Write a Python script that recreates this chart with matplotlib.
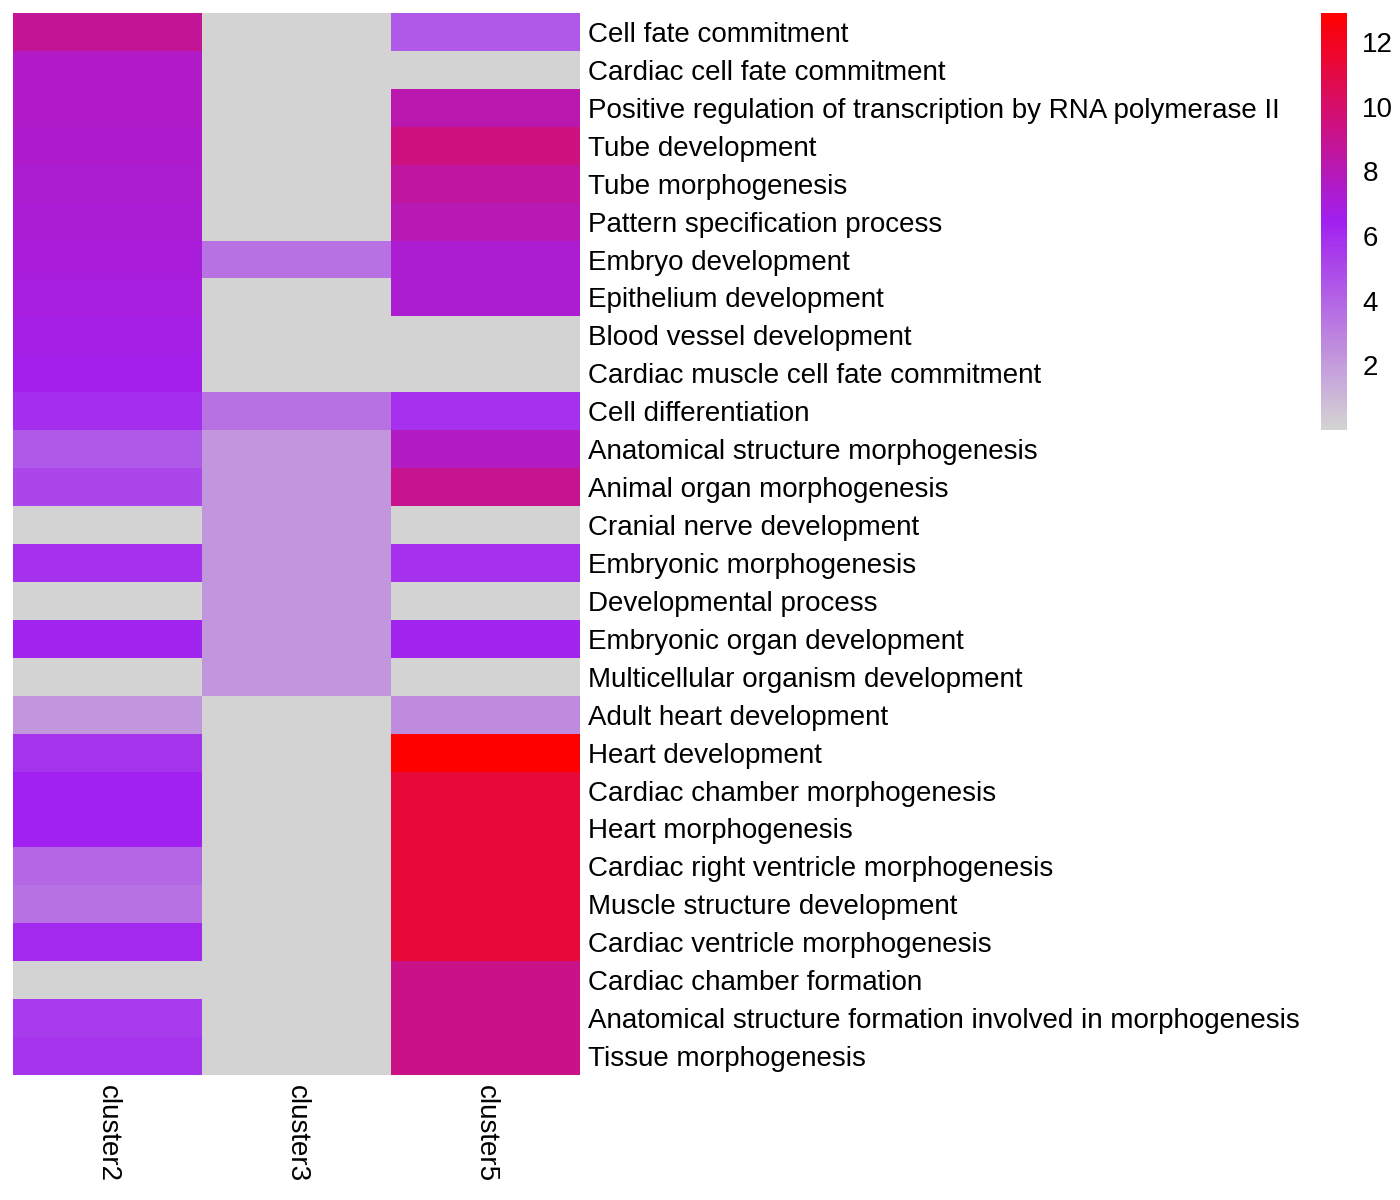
import numpy as np
import matplotlib
matplotlib.use("Agg")
import matplotlib.pyplot as plt
from matplotlib.colors import LinearSegmentedColormap

terms = [
    "Cell fate commitment",
    "Cardiac cell fate commitment",
    "Positive regulation of transcription by RNA polymerase II",
    "Tube development",
    "Tube morphogenesis",
    "Pattern specification process",
    "Embryo development",
    "Epithelium development",
    "Blood vessel development",
    "Cardiac muscle cell fate commitment",
    "Cell differentiation",
    "Anatomical structure morphogenesis",
    "Animal organ morphogenesis",
    "Cranial nerve development",
    "Embryonic morphogenesis",
    "Developmental process",
    "Embryonic organ development",
    "Multicellular organism development",
    "Adult heart development",
    "Heart development",
    "Cardiac chamber morphogenesis",
    "Heart morphogenesis",
    "Cardiac right ventricle morphogenesis",
    "Muscle structure development",
    "Cardiac ventricle morphogenesis",
    "Cardiac chamber formation",
    "Anatomical structure formation involved in morphogenesis",
    "Tissue morphogenesis",
]
clusters = ["cluster2", "cluster3", "cluster5"]

cluster2 = [8.9, 7.6, 7.5, 7.4, 7.3, 7.2, 7.0, 6.9, 6.8, 6.7,
            6.0, 4.5, 5.1, 0, 5.9, 0, 6.3, 0, 2.2, 5.8,
            6.4, 6.4, 3.9, 3.5, 6.1, 0, 5.5, 5.7]
cluster3 = [0, 0, 0, 0, 0, 0, 3.5, 0, 0, 0,
            3.5, 2.2, 2.2, 2.2, 2.2, 2.2, 2.2, 2.2, 0, 0,
            0, 0, 0, 0, 0, 0, 0, 0]
cluster5 = [4.5, 0, 8.2, 9.5, 8.6, 8.0, 7.3, 7.3, 0, 0,
            5.9, 7.7, 9.1, 0, 5.9, 0, 6.3, 0, 2.7, 12.9,
            11.35, 11.35, 11.35, 11.35, 11.35, 9.2, 9.2, 9.2]
cbar_ticks = [2, 4, 6, 8, 10, 12]

data = np.column_stack([cluster2, cluster3, cluster5])

plt.rcParams['font.family'] = ['Liberation Sans', 'DejaVu Sans']
cmap = LinearSegmentedColormap.from_list("gpr", ["#D3D3D3", "#A020F0", "#FF0000"], N=100)

W, H = 1400, 1200
fig = plt.figure(figsize=(14, 12), dpi=100)
ax = fig.add_axes([13 / W, 1 - 1075 / H, 567 / W, 1062 / H])
mesh = ax.pcolormesh(data, cmap=cmap, vmin=0, vmax=12.9)
ax.set_xlim(0, 3)
ax.set_ylim(len(terms), 0)
for s in ax.spines.values():
    s.set_visible(False)
ax.yaxis.tick_right()
ax.set_yticks(np.arange(len(terms)) + 0.5)
ax.set_yticklabels(terms, fontsize=20)
ax.set_xticks(np.arange(3) + 0.5)
ax.set_xticklabels(clusters, fontsize=20, rotation=270, va='top', ha='center')
ax.tick_params(axis='y', length=0, pad=6)
ax.tick_params(axis='x', length=0, pad=7)

cax = fig.add_axes([1321 / W, 1 - 430 / H, 26 / W, 417 / H])
cb = fig.colorbar(mesh, cax=cax)
cb.outline.set_visible(False)
cb.set_ticks(cbar_ticks)
cb.ax.tick_params(length=0, labelsize=20, pad=11)

fig.savefig("out.png", dpi=100)
